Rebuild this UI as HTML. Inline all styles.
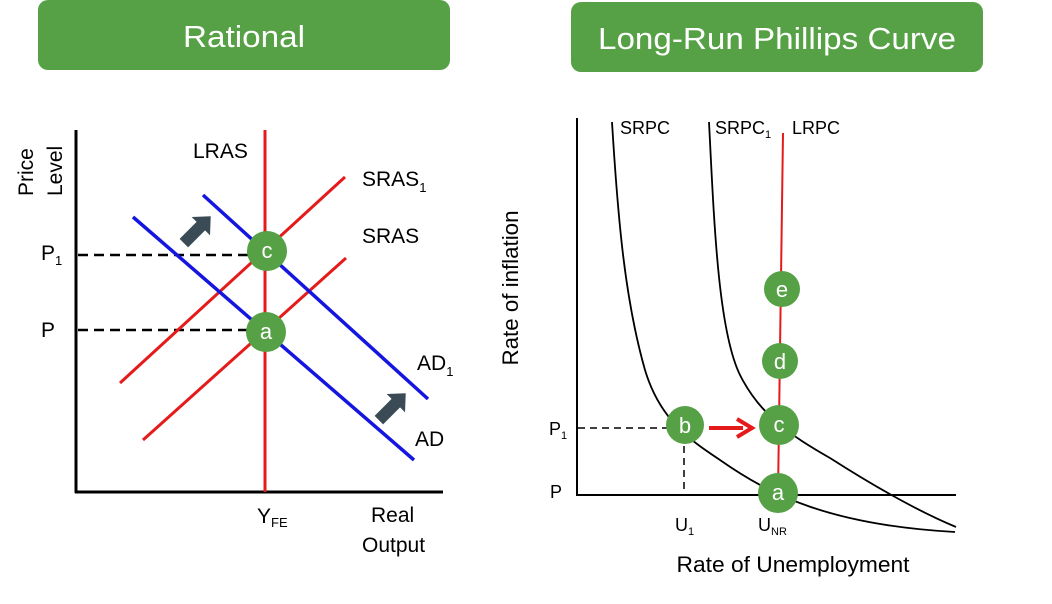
<!DOCTYPE html>
<html><head><meta charset="utf-8"><style>
html,body{margin:0;padding:0;background:#fff;width:1052px;height:604px;overflow:hidden}
svg{display:block}
text{font-family:"Liberation Sans",Arial,sans-serif}
</style></head><body>
<svg width="1052" height="604" viewBox="0 0 1052 604">
<rect x="38" y="0" width="412" height="70" rx="10" fill="#56a046"/>
<text x="244" y="47" fill="#fff" font-size="31" text-anchor="middle" textLength="122" lengthAdjust="spacingAndGlyphs">Rational</text>
<rect x="571" y="2" width="412" height="70" rx="10" fill="#56a046"/>
<text x="777" y="49" fill="#fff" font-size="31" text-anchor="middle" textLength="358" lengthAdjust="spacingAndGlyphs">Long-Run Phillips Curve</text>

<!-- Left chart -->
<line x1="76" y1="130" x2="76" y2="493" stroke="#000" stroke-width="3"/>
<line x1="75" y1="492" x2="443" y2="492" stroke="#000" stroke-width="3"/>
<line x1="78" y1="255" x2="250" y2="255" stroke="#000" stroke-width="2.5" stroke-dasharray="10,6"/>
<line x1="78" y1="330" x2="250" y2="330" stroke="#000" stroke-width="2.5" stroke-dasharray="10,6"/>
<line x1="265" y1="130" x2="265" y2="492" stroke="#e51b1b" stroke-width="3"/>
<line x1="120" y1="383" x2="345" y2="177" stroke="#e51b1b" stroke-width="3"/>
<line x1="143" y1="440" x2="346" y2="258" stroke="#e51b1b" stroke-width="3"/>
<line x1="133" y1="217" x2="414" y2="460" stroke="#1515e0" stroke-width="3.5"/>
<line x1="203" y1="195" x2="428" y2="399" stroke="#1515e0" stroke-width="3.5"/>
<circle cx="267" cy="251" r="20" fill="#56a046"/>
<text x="267" y="258" fill="#fff" font-size="22" text-anchor="middle">c</text>
<circle cx="266" cy="332" r="20" fill="#56a046"/>
<text x="266" y="339" fill="#fff" font-size="22" text-anchor="middle">a</text>
<g fill="#3a4b55">
<polygon transform="translate(198,229) rotate(-45)" points="-20,-6 4,-6 4,-13 18,0 4,13 4,6 -20,6"/>
<polygon transform="translate(393,406) rotate(-45)" points="-20,-6 4,-6 4,-13 18,0 4,13 4,6 -20,6"/>
</g>
<g font-size="21" fill="#000">
<text x="193" y="158">LRAS</text>
<text x="362" y="186">SRAS<tspan font-size="13" dy="6">1</tspan></text>
<text x="362" y="243">SRAS</text>
<text x="417" y="370">AD<tspan font-size="13" dy="6">1</tspan></text>
<text x="415" y="446">AD</text>
<text x="41" y="260">P<tspan font-size="13" dy="5">1</tspan></text>
<text x="41" y="337">P</text>
<text x="257" y="523">Y<tspan font-size="13" dy="4">FE</tspan></text>
<text x="371" y="522">Real</text>
<text x="362" y="552">Output</text>
<text transform="translate(33,196) rotate(-90)">Price</text>
<text transform="translate(62,196) rotate(-90)">Level</text>
</g>

<!-- Right chart -->
<line x1="577" y1="118" x2="577" y2="496" stroke="#000" stroke-width="2"/>
<line x1="576" y1="495" x2="956" y2="495" stroke="#000" stroke-width="2"/>
<line x1="578" y1="428" x2="667" y2="428" stroke="#000" stroke-width="1.5" stroke-dasharray="7,5"/>
<line x1="684" y1="446" x2="684" y2="495" stroke="#000" stroke-width="1.5" stroke-dasharray="7,5"/>
<path d="M612,122 C618,220 625,300 645,370 C660,420 690,440 720,460 C770,495 830,525 955,532" fill="none" stroke="#000" stroke-width="1.8"/>
<path d="M709,122 C714,220 718,330 740,375 C760,415 790,435 830,458 C880,490 920,512 956,527" fill="none" stroke="#000" stroke-width="1.8"/>
<line x1="783" y1="133" x2="778" y2="495" stroke="#e51b1b" stroke-width="2"/>
<line x1="709" y1="428" x2="743" y2="428" stroke="#e51b1b" stroke-width="4"/>
<polyline points="737,419 752,428 737,437" fill="none" stroke="#e51b1b" stroke-width="4"/>
<g fill="#56a046">
<circle cx="782" cy="289" r="18"/>
<circle cx="780" cy="361" r="18"/>
<circle cx="779" cy="425" r="20"/>
<circle cx="685" cy="425" r="19"/>
<circle cx="778" cy="493" r="20"/>
</g>
<g fill="#fff" font-size="22" text-anchor="middle">
<text x="782" y="297">e</text>
<text x="780" y="369">d</text>
<text x="779" y="432">c</text>
<text x="685" y="433">b</text>
<text x="778" y="500">a</text>
</g>
<g font-size="18" fill="#000">
<text x="620" y="134">SRPC</text>
<text x="715" y="134">SRPC<tspan font-size="11" dy="4">1</tspan></text>
<text x="792" y="134">LRPC</text>
<text x="549" y="435">P<tspan font-size="11" dy="4">1</tspan></text>
<text x="550" y="498">P</text>
<text x="675" y="531">U<tspan font-size="11" dy="4">1</tspan></text>
<text x="758" y="531">U<tspan font-size="11" dy="4">NR</tspan></text>
</g>
<text x="793" y="572" font-size="22" text-anchor="middle" textLength="233" lengthAdjust="spacingAndGlyphs">Rate of Unemployment</text>
<text transform="translate(518,288) rotate(-90)" font-size="22" text-anchor="middle" textLength="155" lengthAdjust="spacingAndGlyphs">Rate of inflation</text>
</svg>
</body></html>
